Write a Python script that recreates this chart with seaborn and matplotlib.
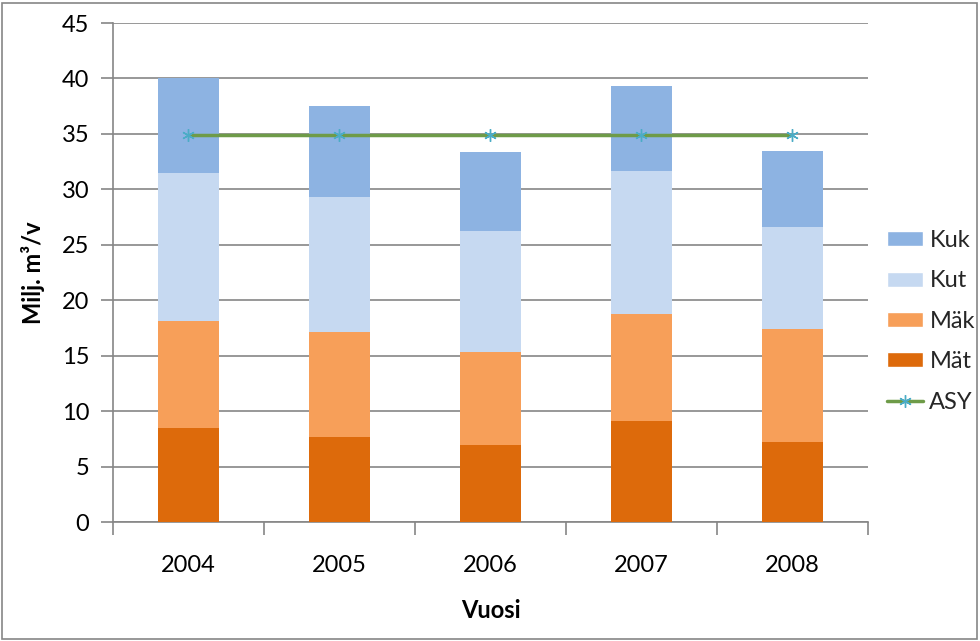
import numpy as np
import pandas as pd
import matplotlib
matplotlib.use("Agg")
import matplotlib.pyplot as plt
from matplotlib.patches import Patch, Rectangle
from matplotlib.lines import Line2D
import seaborn as sns

years = ["2004", "2005", "2006", "2007", "2008"]
mat = [8.5, 7.7, 6.95, 9.1, 7.2]
mak = [9.6, 9.4, 8.35, 9.65, 10.2]
kut = [13.4, 12.2, 10.9, 12.9, 9.2]
kuk = [8.5, 8.2, 7.2, 7.65, 6.85]
asy = [34.9, 34.9, 34.9, 34.9, 34.9]

df = pd.DataFrame({"Vuosi": years, "Mät": mat, "Mäk": mak, "Kut": kut, "Kuk": kuk})
# cumulative tops, drawn from the highest down so the stacks show
df["top_mat"] = df["Mät"]
df["top_mak"] = df["top_mat"] + df["Mäk"]
df["top_kut"] = df["top_mak"] + df["Kut"]
df["top_kuk"] = df["top_kut"] + df["Kuk"]

colors = {"Kuk": "#8DB3E2", "Kut": "#C6D9F1", "Mäk": "#F79F59", "Mät": "#DD6A0B"}

sns.set_theme(style="white")
plt.rcParams["font.family"] = ["Lato", "DejaVu Sans"]
FS = 17

fig = plt.figure(figsize=(9.8, 6.41), dpi=100)
ax = fig.add_axes([0.1153, 0.1856, 0.7704, 0.7785])

for col, name in [("top_kuk", "Kuk"), ("top_kut", "Kut"), ("top_mak", "Mäk"), ("top_mat", "Mät")]:
    sns.barplot(data=df, x="Vuosi", y=col, color=colors[name], width=0.4,
                saturation=1, edgecolor="none", linewidth=0, ax=ax, zorder=3)

sns.lineplot(x=np.arange(len(years)), y=asy, color="#6E9B48", linewidth=2.5,
             marker=(6, 2, 0), markersize=9, markeredgecolor="#4BACC6",
             markeredgewidth=1, ax=ax, zorder=4)

ax.set_ylim(0, 45)
ax.set_xlim(-0.5, 4.5)
ax.set_yticks(np.arange(0, 46, 5))
ax.yaxis.grid(True, color="#868686", linewidth=1.2, zorder=0)
ax.set_axisbelow(True)
for s in ["top", "right"]:
    ax.spines[s].set_visible(False)
for s in ["left", "bottom"]:
    ax.spines[s].set_color("#868686")
    ax.spines[s].set_linewidth(1.2)

ax.tick_params(axis="y", which="major", direction="out", length=9, width=1.2,
               color="#868686", labelsize=FS, pad=8, left=True, labelcolor="black")
ax.set_xticks(range(len(years)))
ax.set_xticklabels(years)
ax.set_xticks(np.arange(-0.5, 5, 1), minor=True)
ax.tick_params(axis="x", which="major", length=0, labelsize=FS, pad=24, labelcolor="black")
ax.tick_params(axis="x", which="minor", direction="out", length=9, width=1.2,
               color="#868686", bottom=True)

ax.set_xlabel("Vuosi", fontsize=FS, fontweight="bold", labelpad=16, color="black")
ax.set_ylabel("Milj. m³/v", fontsize=FS, fontweight="bold", labelpad=12, color="black")

handles = [Patch(facecolor=colors[n], label=n) for n in ["Kuk", "Kut", "Mäk", "Mät"]]
handles.append(Line2D([0], [0], color="#6E9B48", linewidth=2.5, marker=(6, 2, 0),
                      markersize=9, markeredgecolor="#4BACC6", label="ASY"))
fig.legend(handles=handles, loc="upper left", bbox_to_anchor=(0.905, 0.641),
           frameon=False, fontsize=FS, handlelength=1.55, handleheight=0.6,
           handletextpad=0.25, labelspacing=0.82, borderaxespad=0, borderpad=0)

fig.patches.append(Rectangle((0.002, 0.003), 0.995, 0.993, transform=fig.transFigure,
                             fill=False, edgecolor="#868686", linewidth=1.2))

fig.savefig("out.png", dpi=100)
